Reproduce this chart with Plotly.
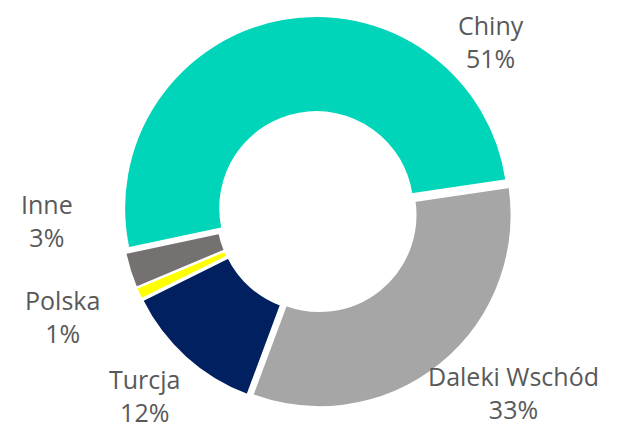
import plotly.graph_objects as go

categories = ["Chiny", "Daleki Wschód", "Turcja", "Polska", "Inne"]
values = [51, 33, 12, 1, 3]
colors = ["#00D4B9", "#A6A6A6", "#002060", "#FFFF00", "#767171"]

# label anchor positions in paper coords (layout only)
label_pos = [(0.787, 0.934), (0.824, 0.0405), (0.217, 0.031), (0.082, 0.2325), (0.056, 0.4795)]

fig = go.Figure(go.Pie(
    labels=categories,
    values=values,
    hole=0.5,
    sort=False,
    direction="clockwise",
    rotation=258,
    pull=[0.02] * len(values),
    marker=dict(colors=colors, line=dict(color="white", width=2)),
    textinfo="none",
    hoverinfo="label+percent",
    showlegend=False,
    domain=dict(x=[0, 1], y=[0, 1]),
))

total = sum(values)
annotations = []
for cat, v, (x, y) in zip(categories, values, label_pos):
    annotations.append(dict(
        x=x, y=y, xref="paper", yref="paper",
        text=f"{cat}<br>{round(100 * v / total)}%",
        showarrow=False, xanchor="center", yanchor="middle", borderpad=0,
        font=dict(family="Open Sans", size=25, color="#595959"),
    ))

fig.update_layout(
    width=617, height=428,
    margin=dict(l=5, r=4, t=8, b=28),
    paper_bgcolor="white", plot_bgcolor="white",
    annotations=annotations,
)

fig.write_html("out.html")
